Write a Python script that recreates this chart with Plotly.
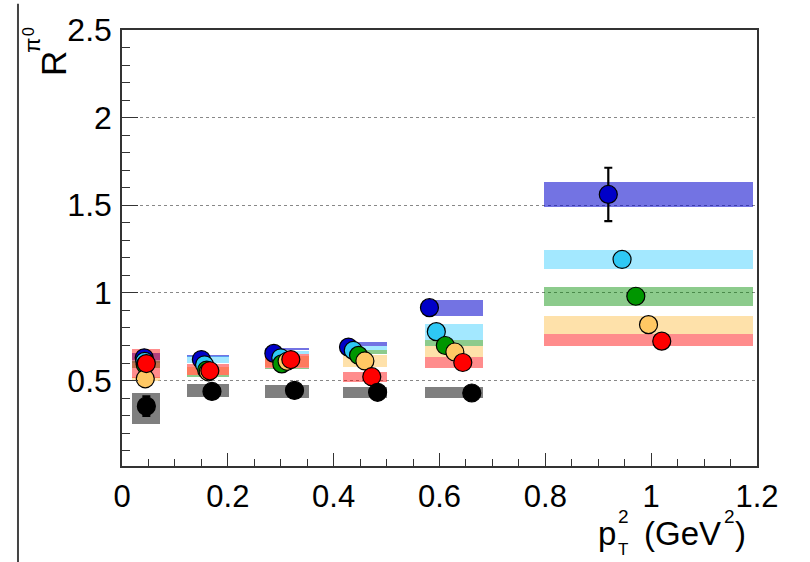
import plotly.graph_objects as go

# p_T^2 bins: marker positions per series and band extents (GeV^2)
band_lo = [0.019, 0.122, 0.270, 0.418, 0.573, 0.798]
band_hi = [0.072, 0.202, 0.354, 0.500, 0.682, 1.193]

x_blue = [0.042, 0.150, 0.287, 0.428, 0.581, 0.919]
x_cyan = [0.043, 0.156, 0.300, 0.437, 0.594, 0.945]
x_green = [0.044, 0.160, 0.302, 0.447, 0.611, 0.971]
x_orange = [0.044, 0.163, 0.312, 0.459, 0.629, 0.995]
x_red = [0.046, 0.166, 0.319, 0.472, 0.644, 1.020]
x_black = [0.046, 0.170, 0.326, 0.483, 0.661]

# R^{pi0} values
r_blue = [0.63, 0.62, 0.655, 0.691, 0.916, 1.562]
r_cyan = [0.61, 0.59, 0.63, 0.672, 0.779, 1.191]
r_green = [0.59, 0.56, 0.595, 0.644, 0.700, 0.981]
r_orange = [0.51, 0.55, 0.61, 0.612, 0.663, 0.819]
r_red = [0.597, 0.556, 0.62, 0.522, 0.603, 0.725]
r_black = [0.354, 0.438, 0.444, 0.433, 0.429]

# statistical errors
e_blue = [0.03, 0.02, 0.02, 0.02, 0.02, 0.152]
e_cyan = [0.02, 0.02, 0.02, 0.02, 0.02, 0.035]
e_green = [0.02, 0.02, 0.02, 0.02, 0.02, 0.03]
e_orange = [0.02, 0.02, 0.02, 0.02, 0.02, 0.03]
e_red = [0.04, 0.02, 0.02, 0.02, 0.02, 0.03]
e_black = [0.056, 0.02, 0.02, 0.02, 0.02]

# systematic bands (low, high)
s_blue_lo = [0.62, 0.635, 0.675, 0.700, 0.869, 1.488]
s_blue_hi = [0.66, 0.645, 0.685, 0.720, 0.962, 1.631]
s_cyan_lo = [0.60, 0.603, 0.650, 0.674, 0.729, 1.135]
s_cyan_hi = [0.62, 0.639, 0.670, 0.700, 0.822, 1.247]
s_green_lo = [0.57, 0.520, 0.564, 0.652, 0.697, 0.925]
s_green_hi = [0.61, 0.530, 0.574, 0.674, 0.729, 1.032]
s_orange_lo = [0.500, 0.530, 0.580, 0.580, 0.635, 0.766]
s_orange_hi = [0.520, 0.580, 0.640, 0.648, 0.697, 0.869]
s_red_lo = [0.513, 0.532, 0.569, 0.494, 0.569, 0.695]
s_red_hi = [0.681, 0.592, 0.653, 0.547, 0.635, 0.766]
s_black_lo = [0.251, 0.405, 0.400, 0.400, 0.400]
s_black_hi = [0.429, 0.478, 0.476, 0.466, 0.466]

series = [
    ("blue", x_blue, r_blue, e_blue, s_blue_lo, s_blue_hi, "#0000c8", "rgba(0,0,204,0.55)"),
    ("cyan", x_cyan, r_cyan, e_cyan, s_cyan_lo, s_cyan_hi, "#2ec8f5", "rgba(51,204,255,0.45)"),
    ("green", x_green, r_green, e_green, s_green_lo, s_green_hi, "#009600", "rgba(0,140,0,0.45)"),
    ("orange", x_orange, r_orange, e_orange, s_orange_lo, s_orange_hi, "#ffc864", "rgba(253,200,100,0.55)"),
    ("red", x_red, r_red, e_red, s_red_lo, s_red_hi, "#ff0000", "rgba(255,0,0,0.45)"),
    ("black", x_black, r_black, e_black, s_black_lo, s_black_hi, "#000000", "rgba(0,0,0,0.5)"),
]

fig = go.Figure()

# systematic bands as floating bars
for name, xs, ys, es, lo, hi, col, bcol in series:
    n = len(lo)
    centers = [(band_lo[i] + band_hi[i]) / 2 for i in range(n)]
    widths = [band_hi[i] - band_lo[i] for i in range(n)]
    fig.add_trace(go.Bar(
        x=centers, y=[hi[i] - lo[i] for i in range(n)], base=lo[:n], width=widths,
        marker=dict(color=bcol, line=dict(width=0)), showlegend=False, hoverinfo="skip",
    ))

# data points
for name, xs, ys, es, lo, hi, col, bcol in series:
    fig.add_trace(go.Scatter(
        x=xs, y=ys, mode="markers", name=name, showlegend=False,
        marker=dict(size=18, color=col, line=dict(color="black", width=1.2)),
        error_y=dict(type="data", array=es, color="black", thickness=2.2, width=4),
    ))

font = "Liberation Sans, Arial, Helvetica, sans-serif"

fig.update_layout(
    width=810, height=562,
    margin=dict(l=122, r=53, t=22, b=96),
    paper_bgcolor="white", plot_bgcolor="white",
    barmode="overlay", bargap=0,
    font=dict(family=font, size=32, color="black"),
    xaxis=dict(
        range=[0, 1.2], tickmode="array",
        tickvals=[0, 0.2, 0.4, 0.6, 0.8, 1.0, 1.2],
        ticktext=["0", "0.2", "0.4", "0.6", "0.8", "1", "1.2"],
        ticks="inside", ticklen=13, tickwidth=1.2, tickcolor="#333",
        minor=dict(dtick=0.05, tick0=0, ticks="inside", ticklen=7, tickwidth=1, tickcolor="#333"),
        showline=True, linecolor="#333", linewidth=1.5, mirror=True,
        showgrid=False, zeroline=False,
        tickfont=dict(size=31), ticklabelstandoff=2,
    ),
    yaxis=dict(
        range=[0.0126, 2.5], tickmode="array",
        tickvals=[0.5, 1.0, 1.5, 2.0, 2.5],
        ticktext=["0.5", "1", "1.5", "2", "2.5"],
        ticks="inside", ticklen=16, tickwidth=1.2, tickcolor="#333",
        minor=dict(dtick=0.1, tick0=0, ticks="inside", ticklen=8, tickwidth=1, tickcolor="#333",
                   showgrid=False),
        showline=True, linecolor="#333", linewidth=1.5, mirror=True,
        showgrid=True, gridcolor="#888", griddash="dot", gridwidth=1.3,
        zeroline=False,
        tickfont=dict(size=32), ticklabelstandoff=2,
    ),
)

# y-axis title R^{pi^0}
fig.add_annotation(xref="paper", yref="paper", x=-0.108, y=0.923, text="R",
                   textangle=-90, showarrow=False, font=dict(size=35, family=font),
                   xanchor="center", yanchor="middle")
fig.add_annotation(xref="paper", yref="paper", x=-0.141, y=0.965, text="π",
                   textangle=-90, showarrow=False, font=dict(size=22, family=font),
                   xanchor="center", yanchor="middle")
fig.add_annotation(xref="paper", yref="paper", x=-0.147, y=0.997, text="0",
                   textangle=-90, showarrow=False, font=dict(size=16, family=font),
                   xanchor="center", yanchor="middle")

# x-axis title p_T^2 (GeV^2), pieces placed side by side
ty = -0.155
fig.add_annotation(xref="paper", yref="paper", x=0.779, y=ty, text="p",
                   showarrow=False, font=dict(size=33, family=font), borderpad=0,
                   xanchor="right", yanchor="middle")
fig.add_annotation(xref="paper", yref="paper", x=0.780, y=ty + 0.040, text="2",
                   showarrow=False, font=dict(size=19, family=font), borderpad=0,
                   xanchor="left", yanchor="middle")
fig.add_annotation(xref="paper", yref="paper", x=0.780, y=ty - 0.036, text="T",
                   showarrow=False, font=dict(size=17, family=font), borderpad=0,
                   xanchor="left", yanchor="middle")
fig.add_annotation(xref="paper", yref="paper", x=0.945, y=ty, text="(GeV",
                   showarrow=False, font=dict(size=33, family=font), borderpad=0,
                   xanchor="right", yanchor="middle")
fig.add_annotation(xref="paper", yref="paper", x=0.946, y=ty + 0.040, text="2",
                   showarrow=False, font=dict(size=19, family=font), borderpad=0,
                   xanchor="left", yanchor="middle")
fig.add_annotation(xref="paper", yref="paper", x=0.964, y=ty, text=")",
                   showarrow=False, font=dict(size=33, family=font), borderpad=0,
                   xanchor="left", yanchor="middle")

# left frame edge of the canvas
fig.add_shape(type="line", xref="paper", yref="paper",
              x0=-0.1638, x1=-0.1638, y0=-0.22, y1=1.06,
              line=dict(color="#444", width=2))

fig.write_html("out.html")
